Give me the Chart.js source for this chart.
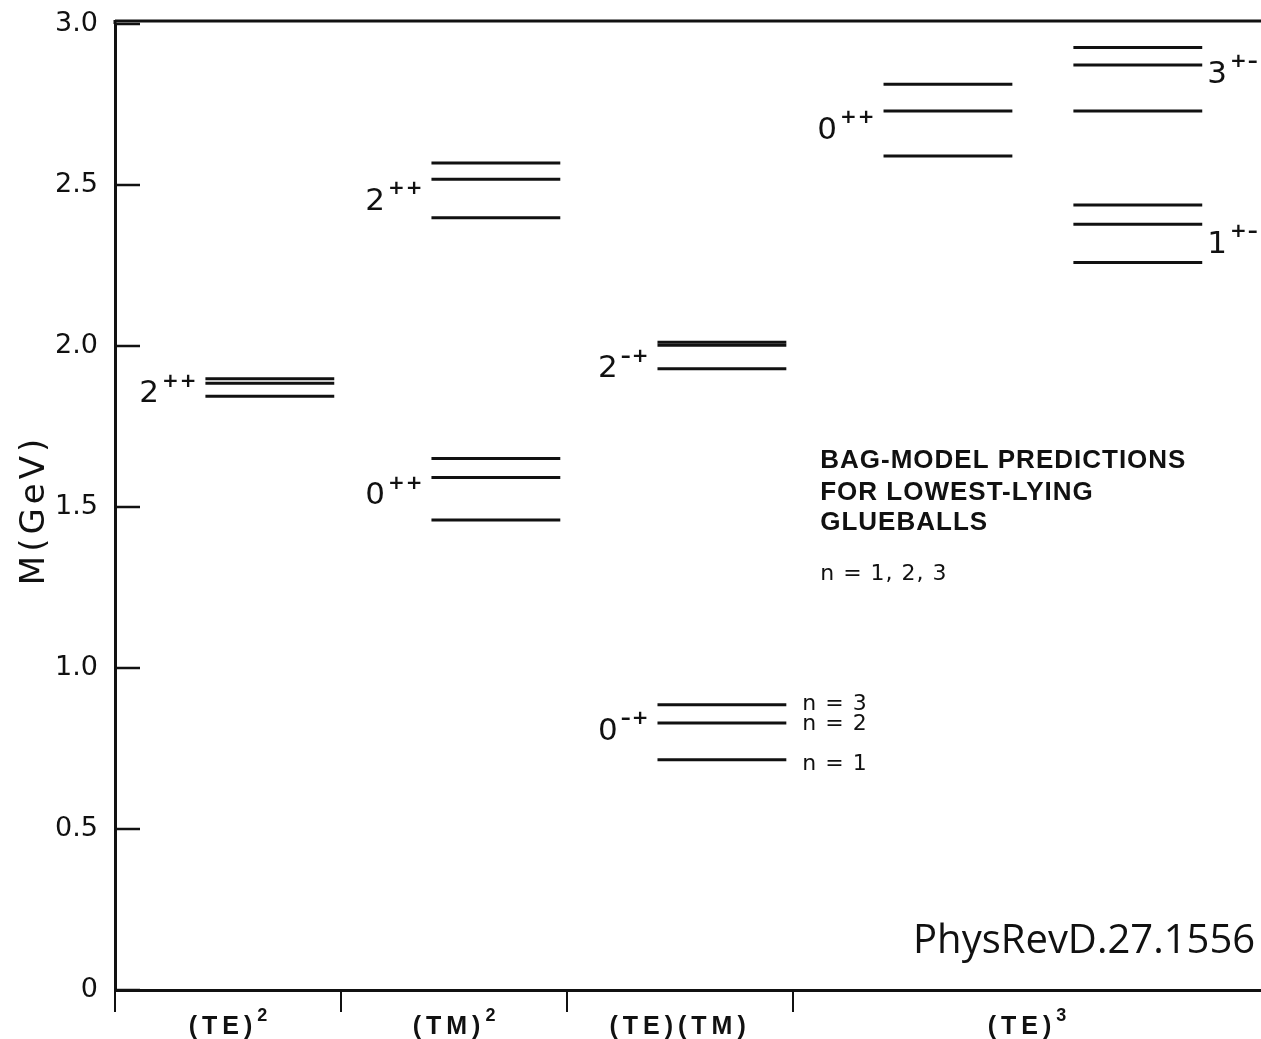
<!DOCTYPE html>
<html>
<head>
<meta charset="utf-8">
<script src="https://cdn.jsdelivr.net/npm/chart.js@4"></script>
<style>
  body { margin: 0; background: #fff; }
  canvas { display: block; }
</style>
</head>
<body>
<canvas id="glueballChart" width="1261" height="1039"></canvas>
<script>
// gluon mode groups along the bottom (base text + superscript)
const categories = ['(TE)', '(TM)', '(TE)(TM)', '(TE)'];
const categorySup = ['2', '2', '', '3'];

// J^PC states, the group each sits in, and the column inside that group
const states = ['2++', '2++', '0++', '2-+', '0-+', '0++', '3+-', '1+-'];
const stateGroup = [0, 1, 1, 2, 2, 3, 3, 3];
const stateColumn = [0, 0, 0, 0, 0, 0, 1, 1];

// predicted masses (GeV) for n = 1, 2, 3
const massN1 = [1.844, 2.398, 1.460, 1.929, 0.715, 2.590, 2.730, 2.259];
const massN2 = [1.884, 2.518, 1.592, 2.002, 0.829, 2.730, 2.873, 2.378];
const massN3 = [1.898, 2.568, 1.651, 2.012, 0.886, 2.813, 2.927, 2.438];

const yTicks = [0, 0.5, 1.0, 1.5, 2.0, 2.5, 3.0];
const groupEdges = [0, 1, 2, 3];

const INK = '#111';

// one short horizontal segment per level
const datasets = [];
const levels = [massN1, massN2, massN3];
states.forEach((s, i) => {
    const start = stateGroup[i] + (stateColumn[i] ? 1.24 : 0.40);
    const end = start + 0.57;
    levels.forEach(arr => {
        datasets.push({
            data: [{x: start, y: arr[i]}, {x: end, y: arr[i]}],
            showLine: true,
            borderColor: INK,
            borderWidth: 3,
            pointRadius: 0,
            pointHoverRadius: 0
        });
    });
});

//draws "main" followed by a raised superscript
function drawSup(ctx, main, sup, x, y, align, mainFont, supFont, rise, gap, mainSpacing, supSpacing) {
    ctx.font = mainFont;
    ctx.letterSpacing = mainSpacing;
    const w1 = ctx.measureText(main).width;
    ctx.font = supFont;
    ctx.letterSpacing = supSpacing;
    const w2 = ctx.measureText(sup).width;
    let left = x;
    if (align === 'right') left = x - w1 - gap - w2;
    if (align === 'center') left = x - (w1 + gap + w2) / 2;
    ctx.textAlign = 'left';
    ctx.textBaseline = 'middle';
    ctx.font = mainFont;
    ctx.letterSpacing = mainSpacing;
    ctx.fillText(main, left, y);
    ctx.font = supFont;
    ctx.letterSpacing = supSpacing;
    ctx.fillText(sup, left + w1 + gap, y - rise);
}

const decorations = {
    id: 'decorations',
    afterDraw(chart) {
        const ctx = chart.ctx;
        const xs = chart.scales.x;
        const ys = chart.scales.y;
        const area = chart.chartArea;
        ctx.save();
        ctx.fillStyle = INK;
        ctx.strokeStyle = INK;

        // top frame line (sits a little above the 3.0 tick)
        ctx.lineWidth = 3;
        ctx.beginPath();
        ctx.moveTo(area.left, area.top - 3);
        ctx.lineTo(area.right, area.top - 3);
        ctx.moveTo(area.left, area.top - 4);
        ctx.lineTo(area.left, area.top);
        ctx.stroke();

        // inward ticks on the mass axis
        ctx.lineWidth = 2.5;
        ys.ticks.forEach(t => {
            const py = ys.getPixelForValue(t.value);
            ctx.beginPath();
            ctx.moveTo(area.left, py);
            ctx.lineTo(area.left + 25, py);
            ctx.stroke();
        });

        // axis title
        ctx.save();
        ctx.translate(35, (area.top + area.bottom) / 2 + 3);
        ctx.rotate(-Math.PI / 2);
        ctx.font = '34px "DejaVu Sans"';
        ctx.letterSpacing = '4px';
        ctx.textAlign = 'center';
        ctx.textBaseline = 'middle';
        ctx.fillText('M(GeV)', 0, 0);
        ctx.restore();

        // J^PC labels next to each set of levels
        const labelDrop = [11, 23, 19, 24, 9, 20, 10, 21];
        const mainFont = '31px "DejaVu Sans"';
        const supFont = 'bold 20px "DejaVu Sans"';
        states.forEach((s, i) => {
            const start = stateGroup[i] + (stateColumn[i] ? 1.24 : 0.40);
            const py = ys.getPixelForValue(massN2[i]) + labelDrop[i];
            const sup = s.slice(1).replace(/-/g, '\u2013');
            if (stateColumn[i]) {
                drawSup(ctx, s[0], sup, xs.getPixelForValue(start + 0.57) + 5, py, 'left', mainFont, supFont, 13, 3, '0px', '1px');
            } else {
                drawSup(ctx, s[0], sup, xs.getPixelForValue(start) - 8, py, 'right', mainFont, supFont, 13, 3, '0px', '1px');
            }
        });

        // n = 1, 2, 3 tags on the 0-+ levels
        ctx.font = '22px "DejaVu Sans"';
        ctx.letterSpacing = '1px';
        ctx.textAlign = 'left';
        ctx.textBaseline = 'middle';
        const tagX = xs.getPixelForValue(2.40 + 0.57) + 16;
        const tagDrop = [5, 1, 0];
        [massN1, massN2, massN3].forEach((arr, k) => {
            ctx.fillText('n = ' + (k + 1), tagX, ys.getPixelForValue(arr[4]) + tagDrop[k]);
        });

        // caption block
        ctx.font = 'bold 26px "Liberation Sans"';
        ctx.letterSpacing = '1px';
        const capX = xs.getPixelForValue(3.12);
        ctx.fillText('BAG-MODEL PREDICTIONS', capX, ys.getPixelForValue(1.642));
        ctx.fillText('FOR LOWEST-LYING', capX, ys.getPixelForValue(1.543));
        ctx.fillText('GLUEBALLS', capX, ys.getPixelForValue(1.450));
        ctx.font = '22px "DejaVu Sans"';
        ctx.fillText('n = 1, 2, 3', capX, ys.getPixelForValue(1.292));

        // source note
        ctx.letterSpacing = '0px';
        ctx.font = '40px "Open Sans"';
        ctx.textAlign = 'right';
        ctx.fillText('PhysRevD.27.1556', xs.getPixelForValue(5.044), ys.getPixelForValue(0.15));

        // group names under the axis, centred in each interval
        const edges = groupEdges.concat([xs.max]);
        categories.forEach((c, i) => {
            const mid = (edges[i] + edges[i + 1]) / 2;
            drawSup(ctx, c, categorySup[i], xs.getPixelForValue(mid), area.bottom + 37,
                'center', 'bold 25px "Liberation Sans"', 'bold 18px "Liberation Sans"', 11, 0, '5px', '0px');
        });

        ctx.restore();
    }
};

const chart = new Chart(document.getElementById('glueballChart').getContext('2d'), {
    type: 'scatter',
    data: { datasets: datasets },
    options: {
        responsive: false,
        animation: false,
        layout: { padding: { top: 24, right: 0, bottom: 0, left: 0 } },
        plugins: {
            legend: { display: false },
            tooltip: { enabled: false }
        },
        scales: {
            x: {
                type: 'linear',
                min: 0,
                max: 5.07,
                afterBuildTicks: (scale) => { scale.ticks = groupEdges.map(v => ({ value: v })); },
                afterFit: (scale) => { scale.height = 49; },
                ticks: { callback: () => '' },
                grid: { drawOnChartArea: false, drawTicks: true, tickLength: 22, color: INK, lineWidth: 2 },
                border: { display: true, color: INK, width: 3 }
            },
            y: {
                type: 'linear',
                min: 0,
                max: 3,
                afterBuildTicks: (scale) => { scale.ticks = yTicks.map(v => ({ value: v })); },
                afterFit: (scale) => { scale.width = 115; },
                ticks: {
                    padding: 2,
                    color: INK,
                    font: { family: 'DejaVu Sans', size: 27 },
                    callback: (v) => v === 0 ? '0' : v.toFixed(1)
                },
                grid: { display: false, drawTicks: true, tickLength: 15 },
                border: { display: true, color: INK, width: 3 }
            }
        }
    },
    plugins: [decorations]
});
</script>
</body>
</html>
